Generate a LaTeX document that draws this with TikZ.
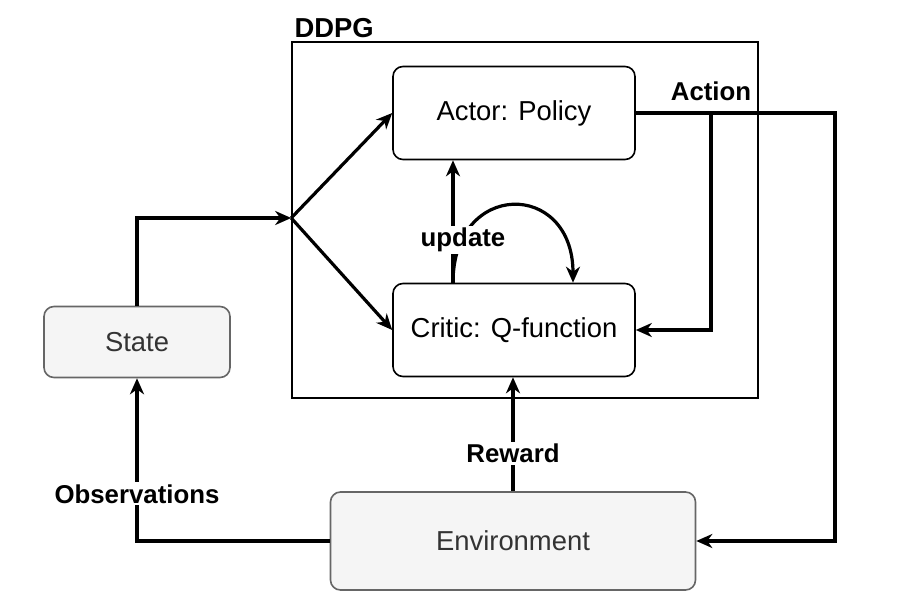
\documentclass[tikz,border=0pt]{standalone}
\usepackage{fontspec}
\setmainfont{Liberation Sans}
\usetikzlibrary{positioning, arrows.meta}
\definecolor{envgray}{HTML}{F5F5F5}
\definecolor{edgegray}{HTML}{666666}
\definecolor{textgray}{HTML}{333333}

\begin{document}
\begin{tikzpicture}[
    x=0.5pt, y=-0.5pt,
    block/.style={rectangle, rounded corners=5pt, draw, line width=0.8pt, fill=white, minimum width=121pt, minimum height=46.5pt, font=\fontsize{13.7}{16}\selectfont},
    envblock/.style={block, fill=envgray, draw=edgegray, text=textgray},
    arrow/.style={-{Stealth[length=8pt, width=7pt, inset=2.5pt]}, line width=1.6pt},
    edgelabel/.style={font=\fontsize{12.9}{15}\selectfont\bfseries, fill=white, inner sep=1pt}
  ]
  \useasboundingbox (0,0) rectangle (905,615);

  \node[draw, line width=0.8pt, minimum width=233pt, minimum height=178pt] (ddpg) at (525,220) {};
  \node[font=\fontsize{13.7}{16}\selectfont\bfseries, anchor=south west, inner sep=1.5pt] (ddpgtitle) at (ddpg.north west) {DDPG};

  \node[block] (actor)  at (514,113) {Actor: Policy};
  \node[block] (critic) at (514,330) {Critic: Q-function};
  \node[envblock, minimum width=93pt, minimum height=35.5pt] (state) at (137,342) {State};
  \node[envblock, minimum width=182.5pt, minimum height=49pt] (env) at (513,541) {Environment};

  \coordinate (split)   at ([yshift=1pt]ddpg.west);
  \coordinate (aturn)   at (835,113);
  \coordinate (abranch) at (711,113);

  \draw[arrow] (state.north) |- (split);
  \draw[arrow] (split) -- (actor.west);
  \draw[arrow] (split) -- (critic.west);

  \draw[arrow] ([xshift=-30.5pt]critic.north) -- ([xshift=-30.5pt]actor.south);
  \draw[arrow] ([xshift=-30.5pt]critic.north) to[out=90, in=90, looseness=2.2] ([xshift=29.5pt]critic.north);
  \node[edgelabel] (update) at (463,240) {update};

  \draw[arrow] (actor.east) -- (aturn) |- (env.east);
  \draw[arrow] (abranch) |- (critic.east);
  \node[edgelabel, above=5pt of abranch] (action) {Action};

  \draw[arrow] (env.north) -- (env.north |- critic.south) node[edgelabel, pos=0.33] (reward) {Reward};
  \draw[arrow] (env.west) -| (state.south) node[edgelabel, pos=0.645] (obs) {Observations};
\end{tikzpicture}
\end{document}
